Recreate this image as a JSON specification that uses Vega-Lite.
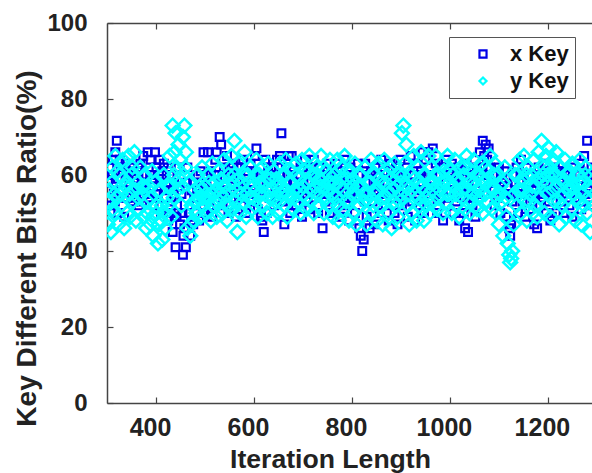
{"$schema":"https://vega.github.io/schema/vega-lite/v6.json","width":485,"height":380,"autosize":"none","padding":{"left":107,"top":23,"right":0,"bottom":70},"background":"white",
"data":{"values":[
{"i":302,"x":58,"y":47},{"i":305,"x":62,"y":56},{"i":308,"x":52,"y":45},{"i":311,"x":60,"y":62},{"i":314,"x":55,"y":50},{"i":317,"x":66,"y":65},{"i":320,"x":69,"y":54},{"i":323,"x":50,"y":47},{"i":326,"x":64,"y":60},{"i":329,"x":56,"y":52},{"i":332,"x":61,"y":64},{"i":335,"x":49,"y":46},{"i":338,"x":63,"y":57},{"i":341,"x":54,"y":50},{"i":344,"x":60,"y":65},{"i":347,"x":57,"y":49},{"i":350,"x":62,"y":60},{"i":353,"x":53,"y":53},{"i":356,"x":59,"y":66},{"i":359,"x":55,"y":48},{"i":362,"x":61,"y":58},{"i":365,"x":52,"y":51},{"i":368,"x":63,"y":62},{"i":371,"x":58,"y":55},{"i":374,"x":65,"y":49},{"i":377,"x":56,"y":60},{"i":380,"x":60,"y":46},{"i":383,"x":66,"y":53},{"i":386,"x":54,"y":57},{"i":389,"x":64,"y":47},{"i":392,"x":59,"y":61},{"i":395,"x":52,"y":44},{"i":398,"x":66,"y":58},{"i":401,"x":62,"y":50},{"i":404,"x":55,"y":42},{"i":407,"x":64,"y":56},{"i":410,"x":50,"y":48},{"i":413,"x":61,"y":43},{"i":416,"x":63,"y":60},{"i":419,"x":54,"y":46},{"i":422,"x":58,"y":54},{"i":425,"x":48,"y":52},{"i":428,"x":60,"y":65},{"i":431,"x":53,"y":49},{"i":434,"x":45,"y":73},{"i":437,"x":58,"y":60},{"i":440,"x":41,"y":71},{"i":443,"x":52,"y":56},{"i":446,"x":62,"y":68},{"i":449,"x":47,"y":64},{"i":452,"x":55,"y":52},{"i":455,"x":39,"y":70},{"i":458,"x":46,"y":73},{"i":461,"x":41,"y":66},{"i":464,"x":62,"y":46},{"i":467,"x":50,"y":58},{"i":470,"x":44,"y":44},{"i":473,"x":56,"y":52},{"i":476,"x":47,"y":48},{"i":479,"x":58,"y":56},{"i":482,"x":52,"y":50},{"i":485,"x":60,"y":60},{"i":488,"x":48,"y":54},{"i":491,"x":61,"y":49},{"i":494,"x":54,"y":62},{"i":497,"x":66,"y":52},{"i":500,"x":50,"y":57},{"i":503,"x":57,"y":50},{"i":506,"x":66,"y":60},{"i":509,"x":52,"y":54},{"i":512,"x":61,"y":48},{"i":515,"x":49,"y":63},{"i":518,"x":58,"y":52},{"i":521,"x":64,"y":58},{"i":524,"x":66,"y":49},{"i":527,"x":55,"y":61},{"i":530,"x":70,"y":53},{"i":533,"x":68,"y":59},{"i":536,"x":52,"y":50},{"i":539,"x":62,"y":64},{"i":542,"x":56,"y":55},{"i":545,"x":65,"y":48},{"i":548,"x":50,"y":60},{"i":551,"x":60,"y":52},{"i":554,"x":54,"y":65},{"i":557,"x":63,"y":51},{"i":560,"x":57,"y":69},{"i":563,"x":49,"y":56},{"i":566,"x":62,"y":45},{"i":569,"x":55,"y":63},{"i":572,"x":60,"y":50},{"i":575,"x":52,"y":58},{"i":578,"x":64,"y":53},{"i":581,"x":58,"y":66},{"i":584,"x":50,"y":49},{"i":587,"x":61,"y":60},{"i":590,"x":55,"y":54},{"i":593,"x":63,"y":62},{"i":596,"x":53,"y":51},{"i":599,"x":60,"y":57},{"i":602,"x":65,"y":52},{"i":605,"x":67,"y":64},{"i":608,"x":51,"y":49},{"i":611,"x":56,"y":60},{"i":614,"x":49,"y":55},{"i":617,"x":48,"y":62},{"i":620,"x":45,"y":52},{"i":623,"x":64,"y":58},{"i":626,"x":50,"y":50},{"i":629,"x":61,"y":63},{"i":632,"x":54,"y":54},{"i":635,"x":62,"y":59},{"i":638,"x":58,"y":49},{"i":641,"x":52,"y":61},{"i":644,"x":60,"y":53},{"i":647,"x":64,"y":57},{"i":650,"x":55,"y":50},{"i":653,"x":65,"y":63},{"i":656,"x":71,"y":55},{"i":659,"x":53,"y":60},{"i":662,"x":47,"y":52},{"i":665,"x":62,"y":64},{"i":668,"x":58,"y":49},{"i":671,"x":65,"y":58},{"i":674,"x":50,"y":54},{"i":677,"x":65,"y":61},{"i":680,"x":56,"y":51},{"i":683,"x":63,"y":56},{"i":686,"x":52,"y":63},{"i":689,"x":60,"y":53},{"i":692,"x":55,"y":59},{"i":695,"x":62,"y":50},{"i":698,"x":49,"y":64},{"i":701,"x":58,"y":55},{"i":704,"x":64,"y":61},{"i":707,"x":53,"y":51},{"i":710,"x":60,"y":58},{"i":713,"x":51,"y":65},{"i":716,"x":62,"y":53},{"i":719,"x":56,"y":60},{"i":722,"x":64,"y":50},{"i":725,"x":54,"y":57},{"i":728,"x":59,"y":62},{"i":731,"x":50,"y":52},{"i":734,"x":62,"y":59},{"i":737,"x":55,"y":65},{"i":740,"x":46,"y":54},{"i":743,"x":60,"y":50},{"i":746,"x":53,"y":61},{"i":749,"x":63,"y":56},{"i":752,"x":57,"y":52},{"i":755,"x":50,"y":64},{"i":758,"x":61,"y":58},{"i":761,"x":54,"y":49},{"i":764,"x":60,"y":60},{"i":767,"x":52,"y":54},{"i":770,"x":63,"y":64},{"i":773,"x":56,"y":48},{"i":776,"x":49,"y":57},{"i":779,"x":61,"y":62},{"i":782,"x":55,"y":51},{"i":785,"x":64,"y":65},{"i":788,"x":52,"y":53},{"i":791,"x":59,"y":59},{"i":794,"x":48,"y":48},{"i":797,"x":62,"y":61},{"i":800,"x":54,"y":55},{"i":803,"x":60,"y":50},{"i":806,"x":50,"y":63},{"i":809,"x":57,"y":47},{"i":812,"x":63,"y":57},{"i":815,"x":46,"y":52},{"i":818,"x":44,"y":60},{"i":821,"x":40,"y":49},{"i":824,"x":43,"y":55},{"i":827,"x":63,"y":62},{"i":830,"x":49,"y":47},{"i":833,"x":58,"y":58},{"i":836,"x":46,"y":53},{"i":839,"x":61,"y":64},{"i":842,"x":53,"y":50},{"i":845,"x":47,"y":60},{"i":848,"x":62,"y":55},{"i":851,"x":56,"y":48},{"i":854,"x":60,"y":63},{"i":857,"x":50,"y":52},{"i":860,"x":64,"y":58},{"i":863,"x":55,"y":47},{"i":866,"x":61,"y":64},{"i":869,"x":52,"y":54},{"i":872,"x":58,"y":60},{"i":875,"x":48,"y":50},{"i":878,"x":63,"y":62},{"i":881,"x":54,"y":46},{"i":884,"x":60,"y":56},{"i":887,"x":50,"y":63},{"i":890,"x":62,"y":52},{"i":893,"x":47,"y":49},{"i":896,"x":57,"y":60},{"i":899,"x":64,"y":55},{"i":902,"x":52,"y":71},{"i":905,"x":60,"y":73},{"i":908,"x":55,"y":63},{"i":911,"x":62,"y":68},{"i":914,"x":49,"y":52},{"i":917,"x":58,"y":47},{"i":920,"x":65,"y":60},{"i":923,"x":53,"y":50},{"i":926,"x":60,"y":65},{"i":929,"x":48,"y":55},{"i":932,"x":63,"y":48},{"i":935,"x":56,"y":62},{"i":938,"x":52,"y":52},{"i":941,"x":61,"y":66},{"i":944,"x":66,"y":57},{"i":947,"x":50,"y":48},{"i":950,"x":64,"y":60},{"i":953,"x":57,"y":54},{"i":956,"x":66,"y":65},{"i":959,"x":53,"y":50},{"i":962,"x":60,"y":62},{"i":965,"x":67,"y":53},{"i":968,"x":55,"y":58},{"i":971,"x":63,"y":65},{"i":974,"x":50,"y":51},{"i":977,"x":60,"y":60},{"i":980,"x":54,"y":56},{"i":983,"x":62,"y":63},{"i":986,"x":48,"y":50},{"i":989,"x":58,"y":58},{"i":992,"x":64,"y":53},{"i":995,"x":52,"y":65},{"i":998,"x":60,"y":55},{"i":1001,"x":56,"y":61},{"i":1004,"x":63,"y":50},{"i":1007,"x":50,"y":57},{"i":1010,"x":59,"y":64},{"i":1013,"x":53,"y":52},{"i":1016,"x":62,"y":59},{"i":1019,"x":48,"y":49},{"i":1022,"x":57,"y":62},{"i":1025,"x":61,"y":54},{"i":1028,"x":50,"y":60},{"i":1031,"x":46,"y":51},{"i":1034,"x":63,"y":65},{"i":1037,"x":45,"y":56},{"i":1040,"x":55,"y":50},{"i":1043,"x":60,"y":61},{"i":1046,"x":52,"y":53},{"i":1049,"x":58,"y":64},{"i":1052,"x":49,"y":57},{"i":1055,"x":62,"y":51},{"i":1058,"x":55,"y":60},{"i":1061,"x":66,"y":54},{"i":1064,"x":60,"y":63},{"i":1067,"x":69,"y":50},{"i":1070,"x":65,"y":58},{"i":1073,"x":68,"y":62},{"i":1076,"x":64,"y":53},{"i":1079,"x":67,"y":59},{"i":1082,"x":62,"y":65},{"i":1085,"x":56,"y":51},{"i":1088,"x":60,"y":56},{"i":1091,"x":52,"y":63},{"i":1094,"x":58,"y":50},{"i":1097,"x":54,"y":60},{"i":1100,"x":62,"y":47},{"i":1103,"x":50,"y":57},{"i":1106,"x":59,"y":53},{"i":1109,"x":55,"y":44},{"i":1112,"x":61,"y":62},{"i":1115,"x":49,"y":49},{"i":1118,"x":57,"y":42},{"i":1121,"x":46,"y":39},{"i":1123,"x":44,"y":37},{"i":1125,"x":47,"y":38},{"i":1127,"x":53,"y":40},{"i":1130,"x":60,"y":47},{"i":1133,"x":55,"y":60},{"i":1136,"x":62,"y":52},{"i":1139,"x":50,"y":56},{"i":1142,"x":58,"y":64},{"i":1145,"x":64,"y":50},{"i":1148,"x":53,"y":59},{"i":1151,"x":60,"y":65},{"i":1154,"x":49,"y":53},{"i":1157,"x":62,"y":48},{"i":1160,"x":56,"y":62},{"i":1163,"x":51,"y":55},{"i":1166,"x":60,"y":60},{"i":1169,"x":54,"y":50},{"i":1172,"x":47,"y":64},{"i":1175,"x":58,"y":57},{"i":1178,"x":46,"y":49},{"i":1181,"x":62,"y":66},{"i":1184,"x":52,"y":54},{"i":1187,"x":59,"y":69},{"i":1190,"x":55,"y":60},{"i":1193,"x":63,"y":50},{"i":1196,"x":50,"y":65},{"i":1199,"x":60,"y":55},{"i":1202,"x":53,"y":67},{"i":1205,"x":48,"y":49},{"i":1208,"x":49,"y":60},{"i":1211,"x":58,"y":64},{"i":1214,"x":62,"y":53},{"i":1217,"x":50,"y":66},{"i":1220,"x":56,"y":57},{"i":1223,"x":61,"y":47},{"i":1226,"x":53,"y":62},{"i":1229,"x":59,"y":52},{"i":1232,"x":50,"y":58},{"i":1235,"x":61,"y":64},{"i":1238,"x":55,"y":49},{"i":1241,"x":60,"y":56},{"i":1244,"x":52,"y":61},{"i":1247,"x":58,"y":51},{"i":1250,"x":49,"y":63},{"i":1253,"x":62,"y":55},{"i":1256,"x":54,"y":48},{"i":1259,"x":60,"y":60},{"i":1262,"x":57,"y":53},{"i":1265,"x":63,"y":64},{"i":1268,"x":51,"y":47},{"i":1271,"x":59,"y":58},{"i":1274,"x":65,"y":52},{"i":1277,"x":55,"y":62},{"i":1280,"x":69,"y":50},{"i":1283,"x":60,"y":57},{"i":1286,"x":52,"y":45},{"i":1289,"x":62,"y":60},
{"i":312,"x":64,"y":51},{"i":340,"x":61,"y":58},{"i":372,"x":53,"y":57},{"i":412,"x":58,"y":52},{"i":438,"x":49,"y":66},{"i":456,"x":44,"y":60},{"i":492,"x":55,"y":56},{"i":525,"x":60,"y":56},{"i":560,"x":60,"y":60},{"i":612,"x":60,"y":58},{"i":660,"x":60,"y":56},{"i":700,"x":55,"y":57},{"i":750,"x":55,"y":58},{"i":800,"x":60,"y":57},{"i":850,"x":55,"y":56},{"i":900,"x":55,"y":58},{"i":950,"x":56,"y":56},{"i":1000,"x":60,"y":58},{"i":1050,"x":55,"y":58},{"i":1100,"x":56,"y":55},{"i":1150,"x":55,"y":56},{"i":1200,"x":56,"y":60},{"i":1250,"x":56,"y":57},
{"i":304,"x":56,"y":53},{"i":310,"x":60,"y":58},{"i":316,"x":53,"y":55},{"i":322,"x":59,"y":61},{"i":328,"x":62,"y":55},{"i":334,"x":54,"y":59},{"i":346,"x":58,"y":55},{"i":352,"x":60,"y":62},{"i":358,"x":54,"y":56},{"i":364,"x":62,"y":54},{"i":376,"x":58,"y":57},{"i":382,"x":55,"y":50},{"i":388,"x":60,"y":54},{"i":394,"x":57,"y":49},{"i":400,"x":55,"y":52},{"i":406,"x":60,"y":47},{"i":418,"x":56,"y":50},{"i":424,"x":62,"y":57},{"i":430,"x":50,"y":57},{"i":436,"x":54,"y":54},{"i":442,"x":49,"y":62},{"i":448,"x":57,"y":59},{"i":454,"x":50,"y":57},{"i":460,"x":58,"y":62},{"i":472,"x":48,"y":47},{"i":478,"x":54,"y":53},{"i":484,"x":56,"y":53},{"i":490,"x":58,"y":57},{"i":496,"x":50,"y":54},{"i":502,"x":60,"y":54},{"i":508,"x":55,"y":58},{"i":514,"x":58,"y":55},{"i":520,"x":60,"y":53},{"i":532,"x":55,"y":55},{"i":538,"x":59,"y":57},{"i":544,"x":54,"y":52},{"i":550,"x":62,"y":56},{"i":556,"x":56,"y":58},{"i":562,"x":60,"y":53},{"i":568,"x":58,"y":59},{"i":574,"x":62,"y":55},{"i":580,"x":55,"y":60},{"i":586,"x":56,"y":55},{"i":592,"x":58,"y":58},{"i":598,"x":56,"y":54},{"i":604,"x":60,"y":60},{"i":610,"x":58,"y":55},{"i":616,"x":56,"y":57},{"i":622,"x":60,"y":55},{"i":628,"x":56,"y":59},{"i":634,"x":58,"y":56},{"i":640,"x":62,"y":54},{"i":646,"x":54,"y":59},{"i":652,"x":60,"y":53},{"i":658,"x":56,"y":57},{"i":664,"x":58,"y":60},{"i":670,"x":60,"y":55},{"i":676,"x":54,"y":58},{"i":682,"x":58,"y":54},{"i":688,"x":56,"y":60},{"i":694,"x":60,"y":56},{"i":706,"x":56,"y":54},{"i":712,"x":58,"y":61},{"i":718,"x":60,"y":56},{"i":724,"x":57,"y":60},{"i":730,"x":56,"y":55},{"i":736,"x":60,"y":57},{"i":742,"x":55,"y":62},{"i":748,"x":58,"y":54},{"i":754,"x":60,"y":60},{"i":760,"x":56,"y":55},{"i":766,"x":58,"y":58},{"i":772,"x":54,"y":52},{"i":778,"x":60,"y":59},{"i":784,"x":56,"y":56},{"i":790,"x":58,"y":61},{"i":796,"x":55,"y":53},{"i":802,"x":58,"y":59},{"i":808,"x":54,"y":55},{"i":814,"x":60,"y":52},{"i":820,"x":56,"y":57},{"i":826,"x":53,"y":53},{"i":832,"x":60,"y":55},{"i":838,"x":55,"y":58},{"i":844,"x":58,"y":52},{"i":856,"x":60,"y":59},{"i":862,"x":56,"y":54},{"i":868,"x":58,"y":58},{"i":874,"x":55,"y":55},{"i":880,"x":60,"y":59},{"i":886,"x":56,"y":53},{"i":892,"x":58,"y":57},{"i":898,"x":55,"y":53},{"i":904,"x":58,"y":60},{"i":910,"x":60,"y":57},{"i":916,"x":55,"y":55},{"i":922,"x":60,"y":56},{"i":928,"x":58,"y":59},{"i":934,"x":55,"y":54},{"i":940,"x":60,"y":58},{"i":946,"x":56,"y":60},{"i":952,"x":60,"y":52},{"i":958,"x":56,"y":58},{"i":964,"x":60,"y":56},{"i":970,"x":55,"y":60},{"i":976,"x":58,"y":54},{"i":982,"x":56,"y":58},{"i":988,"x":60,"y":61},{"i":994,"x":56,"y":55},{"i":1006,"x":58,"y":60},{"i":1012,"x":56,"y":55},{"i":1018,"x":60,"y":58},{"i":1024,"x":54,"y":56},{"i":1030,"x":58,"y":62},{"i":1036,"x":56,"y":53},{"i":1042,"x":60,"y":58},{"i":1048,"x":54,"y":55},{"i":1054,"x":58,"y":60},{"i":1060,"x":56,"y":56},{"i":1066,"x":62,"y":59},{"i":1072,"x":60,"y":55},{"i":1078,"x":62,"y":61},{"i":1084,"x":58,"y":57},{"i":1090,"x":56,"y":60},{"i":1096,"x":60,"y":54},{"i":1102,"x":55,"y":55},{"i":1108,"x":58,"y":58},{"i":1114,"x":55,"y":54},{"i":1132,"x":58,"y":55},{"i":1138,"x":55,"y":60},{"i":1144,"x":60,"y":56},{"i":1156,"x":56,"y":60},{"i":1162,"x":60,"y":53},{"i":1168,"x":56,"y":57},{"i":1174,"x":54,"y":52},{"i":1180,"x":58,"y":59},{"i":1186,"x":55,"y":58},{"i":1192,"x":60,"y":62},{"i":1198,"x":55,"y":58},{"i":1204,"x":58,"y":62},{"i":1210,"x":55,"y":56},{"i":1216,"x":60,"y":60},{"i":1222,"x":56,"y":53},{"i":1228,"x":60,"y":59},{"i":1234,"x":55,"y":55},{"i":1240,"x":58,"y":60},{"i":1246,"x":55,"y":56},{"i":1252,"x":58,"y":58},{"i":1258,"x":55,"y":54},{"i":1264,"x":60,"y":58},{"i":1270,"x":55,"y":55},{"i":1276,"x":60,"y":60},{"i":1282,"x":56,"y":54},{"i":1288,"x":58,"y":56}
]},
"transform":[{"fold":["x","y"],"as":["series","v"]},{"calculate":"datum.series==='x'?'x Key':'y Key'","as":"Key"}],
"layer":[
{"transform":[{"filter":"datum.series==='x'"}],"mark":{"type":"point","shape":"square","size":60,"filled":false,"color":"#0000e6","strokeWidth":2.2,"opacity":1,"clip":true},
"encoding":{"x":{"field":"i","type":"quantitative","scale":{"domain":[300,1290],"nice":false},"axis":{"orient":"bottom","format":"d","values":[400,600,800,1000,1200],"title":"Iteration Length","labelPadding":18,"labelFontSize":25,"labelOffset":-6,"titleFontSize":26.6,"titleX":223,"titleY":64,"titleAlign":"center","titleBaseline":"alphabetic"}},
"y":{"field":"v","type":"quantitative","scale":{"domain":[0,100],"nice":false},"axis":{"values":[0,20,40,60,80,100],"title":"Key Different Bits Ratio(%)","labelPadding":26,"titleFontSize":28,"titleX":-72,"titleY":225,"titleAlign":"center","titleBaseline":"alphabetic"}}}},
{"transform":[{"filter":"datum.series==='y'"}],"mark":{"type":"point","shape":"diamond","size":190,"filled":false,"color":"#00ffff","strokeWidth":2.5,"opacity":1,"clip":true},
"encoding":{"x":{"field":"i","type":"quantitative","axis":{"orient":"top","values":[400,600,800,1000,1200],"labels":false,"title":null,"domain":true}},"y":{"field":"v","type":"quantitative"}}},
{"data":{"values":[{"Key":"x Key","k":0},{"Key":"y Key","k":0}]},"mark":{"type":"point","opacity":0},"encoding":{
"shape":{"field":"Key","type":"nominal","scale":{"domain":["x Key","y Key"],"range":["square","diamond"]},"legend":{"orient":"none","legendX":342,"legendY":14,"title":null,"symbolType":"square"}},
"color":{"field":"Key","type":"nominal","scale":{"domain":["x Key","y Key"],"range":["#0000e6","#00ffff"]}}}}
],
"resolve":{"axis":{"x":"independent"}},
"config":{"font":"Liberation Sans","view":{"stroke":null},
"axis":{"grid":false,"labelFont":"Liberation Sans","labelFontWeight":"bold","labelFontSize":24,"labelColor":"#222222","titleFont":"Liberation Sans","titleFontWeight":"bold","titleFontSize":26,"titleColor":"#222222","domainColor":"#444444","domainWidth":1.5,"tickColor":"#444444","tickSize":-6,"tickWidth":1.2},
"legend":{"fillColor":"white","strokeColor":"#555555","padding":6,"labelFont":"Liberation Sans","labelFontWeight":"bold","labelFontSize":22,"labelColor":"#111111","labelOffset":16,"symbolOffset":17,"symbolSize":50,"symbolStrokeWidth":2.2,"symbolOpacity":1,"symbolFillColor":"transparent","rowPadding":5,"labelExpr":"datum.label + '\u00a0\u00a0\u00a0\u00a0'"}}}
